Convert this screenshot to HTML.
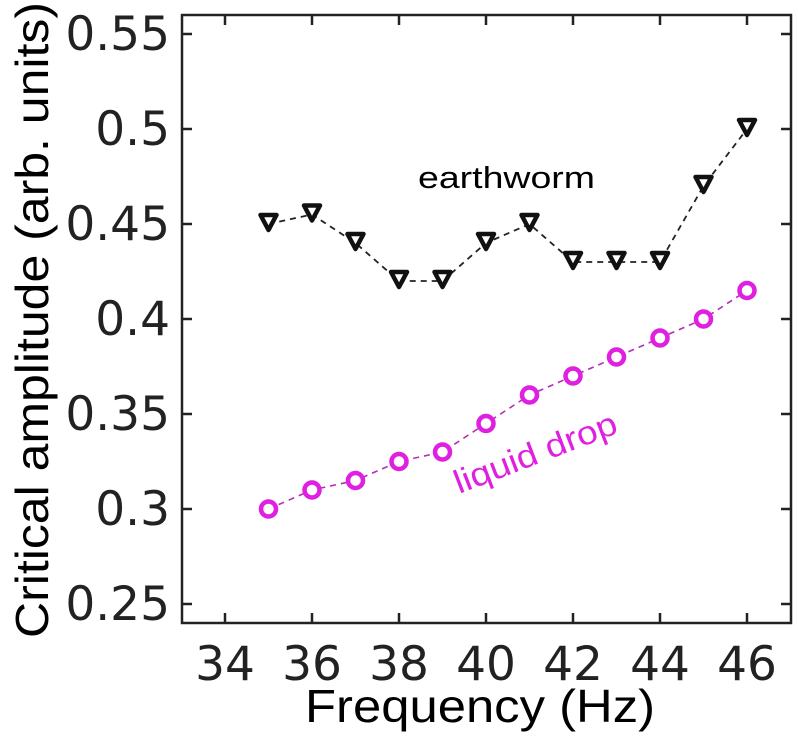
<!DOCTYPE html>
<html><head><meta charset="utf-8"><style>
body{margin:0;background:#fff}
svg text{font-family:"DejaVu Sans","Liberation Sans",sans-serif}
</style></head><body>
<svg id="chart" width="798" height="739" viewBox="0 0 798 739" xmlns="http://www.w3.org/2000/svg">
<rect x="182" y="15" width="609" height="608" fill="none" stroke="#222" stroke-width="2.5"/>
<g id="ticks"></g>
<g id="series"></g>
<text x="480" y="722" font-size="46" text-anchor="middle" textLength="350" lengthAdjust="spacingAndGlyphs" style="font-family:'Liberation Sans',sans-serif">Frequency (Hz)</text>
<text transform="translate(48,320) rotate(-90)" font-size="46" text-anchor="middle" textLength="636" lengthAdjust="spacingAndGlyphs" style="font-family:'Liberation Sans',sans-serif">Critical amplitude (arb. units)</text>
<text x="418" y="188" font-size="31" textLength="177" lengthAdjust="spacingAndGlyphs" style="font-family:'Liberation Sans',sans-serif">earthworm</text>
<text x="459" y="494" font-size="33" fill="#e020e0" textLength="172" lengthAdjust="spacingAndGlyphs" transform="rotate(-21 459 494)" style="font-family:'Liberation Sans',sans-serif">liquid drop</text>
</svg>
<script>
const freqs=[35,36,37,38,39,40,41,42,43,44,45,46];
const earthworm=[0.45,0.455,0.44,0.42,0.42,0.44,0.45,0.43,0.43,0.43,0.47,0.5];
const liquidDrop=[0.30,0.31,0.315,0.325,0.33,0.345,0.36,0.37,0.38,0.39,0.40,0.415];
const xTicks=[34,36,38,40,42,44,46];
const yTicks=[0.25,0.3,0.35,0.4,0.45,0.5,0.55];
const yTickLabels=["0.25","0.3","0.35","0.4","0.45","0.5","0.55"];
const NS="http://www.w3.org/2000/svg";
const X=v=>225+(v-34)*43.5;
const Y=v=>604-(v-0.25)*1900;
function mk(tag,attrs,parent){const e=document.createElementNS(NS,tag);for(const k in attrs)e.setAttribute(k,attrs[k]);parent.appendChild(e);return e;}
const tg=document.getElementById('ticks'),sg=document.getElementById('series');
xTicks.forEach(t=>{
 const x=X(t);
 let l=mk('line',{x1:x,x2:x,y1:623,y2:613,stroke:'#222','stroke-width':2.5},tg);
 
 
 l=mk('line',{x1:x,x2:x,y1:15,y2:25,stroke:'#222','stroke-width':2.5},tg);
 
 
 const tx=mk('text',{x:x,y:680,'font-size':47,'text-anchor':'middle',fill:'#222'},tg);tx.textContent=t;
 
 
});
yTicks.forEach((t,i)=>{
 const y=Y(t);
 let l=mk('line',{x1:182,x2:192,y1:y,y2:y,stroke:'#222','stroke-width':2.5},tg);
 
 
 l=mk('line',{x1:781,x2:791,y1:y,y2:y,stroke:'#222','stroke-width':2.5},tg);
 
 
 const tx=mk('text',{x:170,y:y+16,'font-size':47,'text-anchor':'end',fill:'#222'},tg);tx.textContent=yTickLabels[i];
 
 
});
let p=mk('polyline',{points:freqs.map((f,i)=>X(f)+','+Y(earthworm[i])).join(' '),fill:'none',stroke:'#222','stroke-width':1.8,'stroke-dasharray':'6 5'},sg);


p=mk('polyline',{points:freqs.map((f,i)=>X(f)+','+Y(liquidDrop[i])).join(' '),fill:'none',stroke:'#b030b0','stroke-width':1.6,'stroke-dasharray':'6 5'},sg);


freqs.forEach((f,i)=>{
 const x=X(f),y=Y(earthworm[i]);
 const t=mk('polygon',{points:`${x-8},${y-9} ${x+8},${y-9} ${x},${y+6}`,fill:'#fff',stroke:'#111','stroke-width':4.5,'stroke-linejoin':'round'},sg);
 
 
 const c=mk('circle',{cx:x,cy:Y(liquidDrop[i]),r:7.5,fill:'#fff',stroke:'#e020e0','stroke-width':4.5},sg);
 
 
});
</script>
</body></html>
